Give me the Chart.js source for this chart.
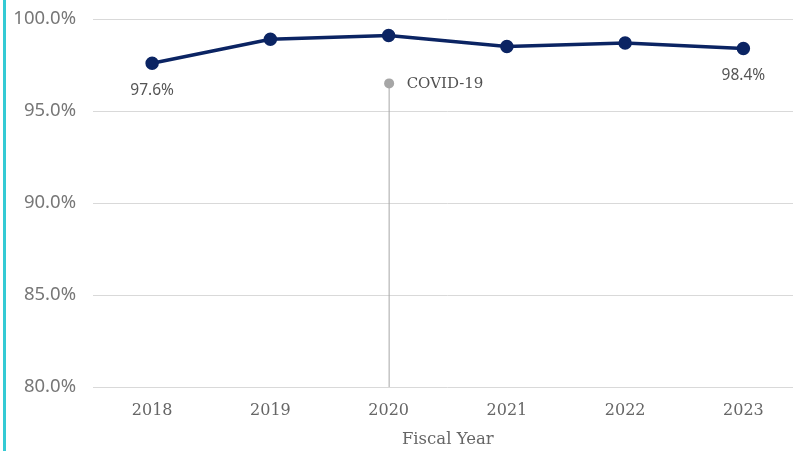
<!DOCTYPE html>
<html>
<head>
<meta charset="utf-8">
<script src="https://cdn.jsdelivr.net/npm/chart.js@4"></script>
<style>
  html, body { margin: 0; padding: 0; background: #fff; overflow: hidden; }
  #wrap { position: relative; width: 811px; height: 451px; }
  #edge { position: absolute; left: 3px; top: 0; width: 3px; height: 451px; background: #34cad4; z-index: 2; }
</style>
</head>
<body>
<div id="wrap">
  <div id="edge"></div>
  <canvas id="rateChart"></canvas>
</div>
<script>
const years = ['2018', '2019', '2020', '2021', '2022', '2023'];
const rates = [97.6, 98.9, 99.1, 98.5, 98.7, 98.4];
const yTicks = [80, 85, 90, 95, 100];
const markerYear = '2020';
const markerLevel = 96.5;
const markerText = 'COVID-19';

const serif = '"DejaVu Serif", serif';
const sans = '"Noto Sans", sans-serif';

// vertical marker line with a dot and caption
const markerPlugin = {
    id: 'marker',
    beforeDatasetsDraw(chart) {
        const ctx = chart.ctx;
        const x = chart.scales.x.getPixelForValue(years.indexOf(markerYear));
        const yTop = chart.scales.y.getPixelForValue(markerLevel);
        const yBottom = chart.chartArea.bottom;
        ctx.save();
        ctx.strokeStyle = '#a6a6a6';
        ctx.lineWidth = 1;
        ctx.beginPath();
        ctx.moveTo(x + 0.5, yTop);
        ctx.lineTo(x + 0.5, yBottom);
        ctx.stroke();
        ctx.fillStyle = '#a6a6a6';
        ctx.beginPath();
        ctx.arc(x + 0.5, yTop, 5, 0, Math.PI * 2);
        ctx.fill();
        ctx.fillStyle = '#505050';
        ctx.font = '15px ' + serif;
        ctx.textBaseline = 'middle';
        ctx.textAlign = 'left';
        ctx.fillText(markerText, x + 18, yTop + 1);
        ctx.restore();
    }
};

// value labels under the first and last points
const endLabels = {
    id: 'endLabels',
    afterDatasetsDraw(chart) {
        const ctx = chart.ctx;
        const meta = chart.getDatasetMeta(0);
        ctx.save();
        ctx.fillStyle = '#555';
        ctx.font = '15.5px ' + sans;
        ctx.textAlign = 'center';
        ctx.textBaseline = 'middle';
        [0, rates.length - 1].forEach(i => {
            const pt = meta.data[i];
            ctx.fillText(rates[i].toFixed(1) + '%', pt.x, pt.y + 27);
        });
        ctx.restore();
    }
};

new Chart(document.getElementById('rateChart'), {
    type: 'line',
    data: {
        labels: years,
        datasets: [{
            data: rates,
            borderColor: '#0b2463',
            backgroundColor: '#0b2463',
            borderWidth: 3.5,
            pointRadius: 5,
            pointHoverRadius: 5,
            tension: 0
        }]
    },
    options: {
        responsive: true,
        maintainAspectRatio: false,
        animation: false,
        layout: { padding: { top: 19, left: 14, right: 8, bottom: 0 } },
        plugins: {
            legend: { display: false },
            tooltip: { enabled: false }
        },
        scales: {
            x: {
                offset: true,
                grid: { display: false, drawTicks: false },
                border: { display: false },
                ticks: { color: '#666', font: { family: serif, size: 16 }, padding: 14 },
                title: { display: true, text: 'Fiscal Year', color: '#666', font: { family: serif, size: 16.5 }, padding: { top: 11, bottom: 1 } },
                afterFit(scale) {
                    scale.height = 64;
                    scale.paddingLeft = 0;
                    scale.paddingRight = 0;
                }
            },
            y: {
                min: 80,
                max: 100,
                afterBuildTicks(axis) { axis.ticks = yTicks.map(v => ({ value: v })); },
                grid: { color: '#d9d9d9', lineWidth: 1, drawTicks: false },
                border: { display: false },
                ticks: {
                    color: '#777',
                    font: { family: sans, size: 18.5 },
                    padding: 17,
                    callback: v => v.toFixed(1) + '%'
                },
                afterFit(scale) {
                    scale.width = 79;
                    scale.paddingTop = 0;
                    scale.paddingBottom = 0;
                }
            }
        }
    },
    plugins: [markerPlugin, endLabels]
});
</script>
</body>
</html>
